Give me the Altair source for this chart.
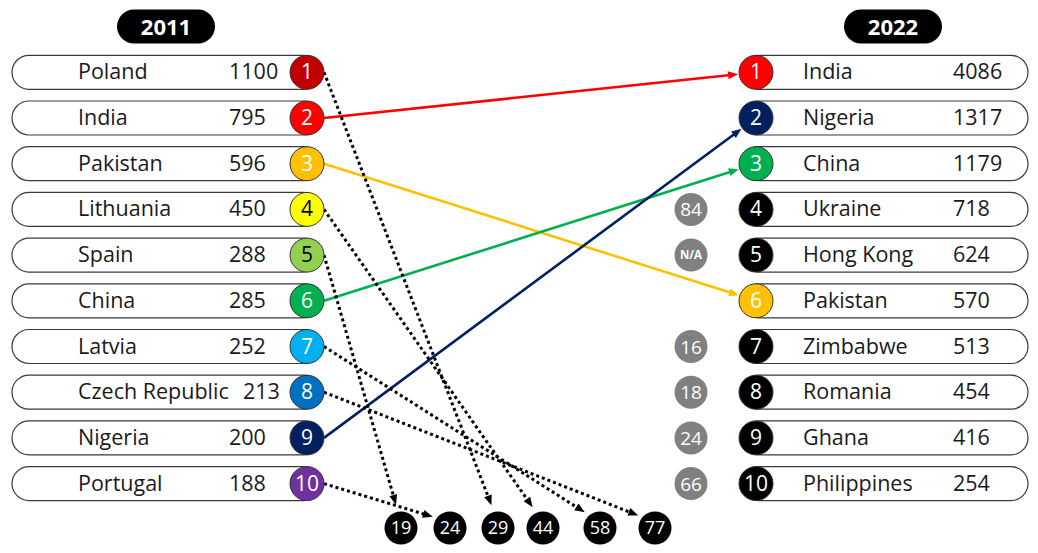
import math
import altair as alt
import pandas as pd

# ---------------- data ----------------
countries_2011 = ["Poland", "India", "Pakistan", "Lithuania", "Spain", "China",
                  "Latvia", "Czech Republic", "Nigeria", "Portugal"]
values_2011 = [1100, 795, 596, 450, 288, 285, 252, 213, 200, 188]
rank_2022_of_2011 = [29, 1, 6, 44, 19, 3, 58, 77, 2, 24]

countries_2022 = ["India", "Nigeria", "China", "Ukraine", "Hong Kong", "Pakistan",
                  "Zimbabwe", "Romania", "Ghana", "Philippines"]
values_2022 = [4086, 1317, 1179, 718, 624, 570, 513, 454, 416, 254]
rank_2011_labels = ["", "", "", "84", "N/A", "", "16", "18", "24", "66"]

bottom_ranks = [19, 24, 29, 44, 58, 77]
years = ["2011", "2022"]

# ---------------- styles ----------------
colors_2011 = ["#C00000", "#FF0000", "#FFC000", "#FFFF00", "#92D050", "#00B050",
               "#00B0F0", "#0070C0", "#002060", "#7030A0"]
text_colors_2011 = ["white", "white", "white", "black", "black", "white",
                    "white", "white", "white", "white"]
FONT = "Open Sans"
INK = "#1a1a1a"

# ---------------- layout ----------------
W, H = 1022, 537
X0 = 8
Y1, ROW = 72.3, 45.7
R_TOP = 1 + (X0 - Y1) / ROW
R_BOT = R_TOP + H / ROW
HALF = 17 / ROW

L_PILL = (12, 320)
R_PILL = (742, 1028)
L_CIRC, R_CIRC, G_CIRC = 307, 756, 691
L_NAME, L_NUM, L_NUM_LONG = 78, 229, 243
R_NAME, R_NUM = 803, 953
TITLE_X = [166, 893]
TITLE_HALF_W = 49
BOTTOM_X = [401, 450, 498, 543, 600, 655]
BOTTOM_ROW = 1 + (528 - Y1) / ROW


def py(r):
    return Y1 + (r - 1) * ROW


def rr(p):
    return 1 + (p - Y1) / ROW


xs = alt.Scale(domain=[X0, X0 + W], nice=False, zero=False)
ys = alt.Scale(domain=[R_TOP, R_BOT], reverse=True, nice=False, zero=False)


def X(f):
    return alt.X(f"{f}:Q", scale=xs, axis=None)


def Y(f):
    return alt.Y(f"{f}:Q", scale=ys, axis=None)


# ---------- tables ----------
rows = list(range(1, 11))
pills = pd.DataFrame(
    [dict(x=L_PILL[0], x2=L_PILL[1], y=r - HALF, y2=r + HALF) for r in rows]
    + [dict(x=R_PILL[0], x2=R_PILL[1], y=r - HALF, y2=r + HALF) for r in rows]
)
titles = pd.DataFrame([
    dict(x=cx - TITLE_HALF_W, x2=cx + TITLE_HALF_W, y=-HALF, y2=HALF, xc=cx, yc=0, t=t)
    for cx, t in zip(TITLE_X, years)
])

solid, dotted, heads = [], [], []
for i, r2 in enumerate(rank_2022_of_2011):
    sx, sy = L_CIRC + 17, py(i + 1)
    if r2 <= 10:
        tx, ty = R_CIRC, py(r2)
        col = colors_2011[i]
        target = solid
    else:
        tx, ty = BOTTOM_X[bottom_ranks.index(r2)], py(BOTTOM_ROW) - 6
        col = "black"
        target = dotted
    dx, dy = tx - sx, ty - sy
    L = math.hypot(dx, dy)
    ux, uy = dx / L, dy / L
    tipx, tipy = tx - ux * 18, ty - uy * 18
    ex, ey = tipx - ux * 5, tipy - uy * 5
    target.append(dict(x=sx, y=rr(sy), x2=ex, y2=rr(ey), c=col))
    heads.append(dict(x=tipx, y=rr(tipy), a=math.degrees(math.atan2(ux, -uy)) % 360, c=col))

solid_df = pd.DataFrame(solid)
dotted_df = pd.DataFrame(dotted)
heads_df = pd.DataFrame(heads)

color_of_2011 = dict(zip(countries_2011, colors_2011))
tcolor_of_2011 = dict(zip(countries_2011, text_colors_2011))

left_df = pd.DataFrame(dict(
    row=rows, name=countries_2011, val=[str(v) for v in values_2011],
    fill=colors_2011, tc=text_colors_2011, rank=[str(r) for r in rows],
    cx=[L_CIRC] * 10, nx=[L_NAME] * 10,
    vx=[L_NUM_LONG if len(n) > 11 else L_NUM for n in countries_2011],
))
right_df = pd.DataFrame(dict(
    row=rows, name=countries_2022, val=[str(v) for v in values_2022],
    fill=[color_of_2011.get(c, "black") for c in countries_2022],
    tc=[tcolor_of_2011.get(c, "white") for c in countries_2022],
    rank=[str(r) for r in rows],
    cx=[R_CIRC] * 10, nx=[R_NAME] * 10, vx=[R_NUM] * 10,
))
grey_df = pd.DataFrame(dict(row=rows, lab=rank_2011_labels, cx=[G_CIRC] * 10))
grey_df = grey_df[grey_df.lab != ""]
grey_num = grey_df[grey_df.lab != "N/A"]
grey_na = grey_df[grey_df.lab == "N/A"]
bottom_df = pd.DataFrame(dict(lab=[str(b) for b in bottom_ranks], cx=BOTTOM_X,
                              row=[BOTTOM_ROW] * len(bottom_ranks)))

circles_df = pd.concat([left_df, right_df], ignore_index=True)

# ---------- layers ----------
title_pills = alt.Chart(titles).mark_rect(fill="black", cornerRadius=17).encode(
    x=X("x"), x2="x2", y=Y("y"), y2="y2")
title_text = alt.Chart(titles).mark_text(
    font=FONT, fontSize=22, fontWeight="bold", color="white", baseline="middle", dy=1
).encode(x=X("xc"), y=Y("yc"), text="t:N")

pill_layer = alt.Chart(pills).mark_rect(
    fill="white", stroke="#3a3a3a", strokeWidth=1.2, cornerRadius=17
).encode(x=X("x"), x2="x2", y=Y("y"), y2="y2")

solid_layer = alt.Chart(solid_df).mark_rule(strokeWidth=2.6).encode(
    x=X("x"), y=Y("y"), x2="x2", y2="y2", color=alt.Color("c:N", scale=None))
dotted_layer = alt.Chart(dotted_df).mark_rule(
    strokeWidth=3, strokeDash=[3, 3], color="black"
).encode(x=X("x"), y=Y("y"), x2="x2", y2="y2")
head_layer = alt.Chart(heads_df).mark_point(
    filled=True, opacity=1, size=100, shape="M0,0L0.8,2L-0.8,2Z", strokeWidth=0
).encode(x=X("x"), y=Y("y"), angle=alt.Angle("a:Q", scale=None),
         color=alt.Color("c:N", scale=None))

circ_layer = alt.Chart(circles_df).mark_circle(
    size=1156, opacity=1, stroke="#333333", strokeWidth=1
).encode(x=X("cx"), y=Y("row"), color=alt.Color("fill:N", scale=None))
circ_text = alt.Chart(circles_df).mark_text(
    font=FONT, fontSize=21, baseline="middle", dy=1
).encode(x=X("cx"), y=Y("row"), text="rank:N", color=alt.Color("tc:N", scale=None))

name_text = alt.Chart(circles_df).mark_text(
    font=FONT, fontSize=21.5, align="left", baseline="middle", color=INK, dy=1
).encode(x=X("nx"), y=Y("row"), text="name:N")
val_text = alt.Chart(circles_df).mark_text(
    font=FONT, fontSize=21.5, align="left", baseline="middle", color=INK, dy=1
).encode(x=X("vx"), y=Y("row"), text="val:N")

grey_layer = alt.Chart(grey_df).mark_circle(size=1089, opacity=1, color="#808080").encode(
    x=X("cx"), y=Y("row"))
grey_text = alt.Chart(grey_num).mark_text(
    font=FONT, fontSize=19, color="white", baseline="middle", dy=1
).encode(x=X("cx"), y=Y("row"), text="lab:N")
grey_na_text = alt.Chart(grey_na).mark_text(
    font=FONT, fontSize=11.5, fontWeight="bold", color="white", baseline="middle", dy=1
).encode(x=X("cx"), y=Y("row"), text="lab:N")

bottom_layer = alt.Chart(bottom_df).mark_circle(size=1089, opacity=1, color="black").encode(
    x=X("cx"), y=Y("row"))
bottom_text = alt.Chart(bottom_df).mark_text(
    font=FONT, fontSize=18, color="white", baseline="middle", dy=1
).encode(x=X("cx"), y=Y("row"), text="lab:N")

chart = alt.layer(
    title_pills, title_text, pill_layer, solid_layer, dotted_layer, head_layer,
    circ_layer, grey_layer, bottom_layer, circ_text, grey_text, grey_na_text,
    bottom_text, name_text, val_text,
).properties(
    width=W, height=H, padding=0,
    autosize=alt.AutoSizeParams(type="none"),
).configure_view(stroke=None)

chart.save("out.html", embed_options={"renderer": "svg", "actions": False})
